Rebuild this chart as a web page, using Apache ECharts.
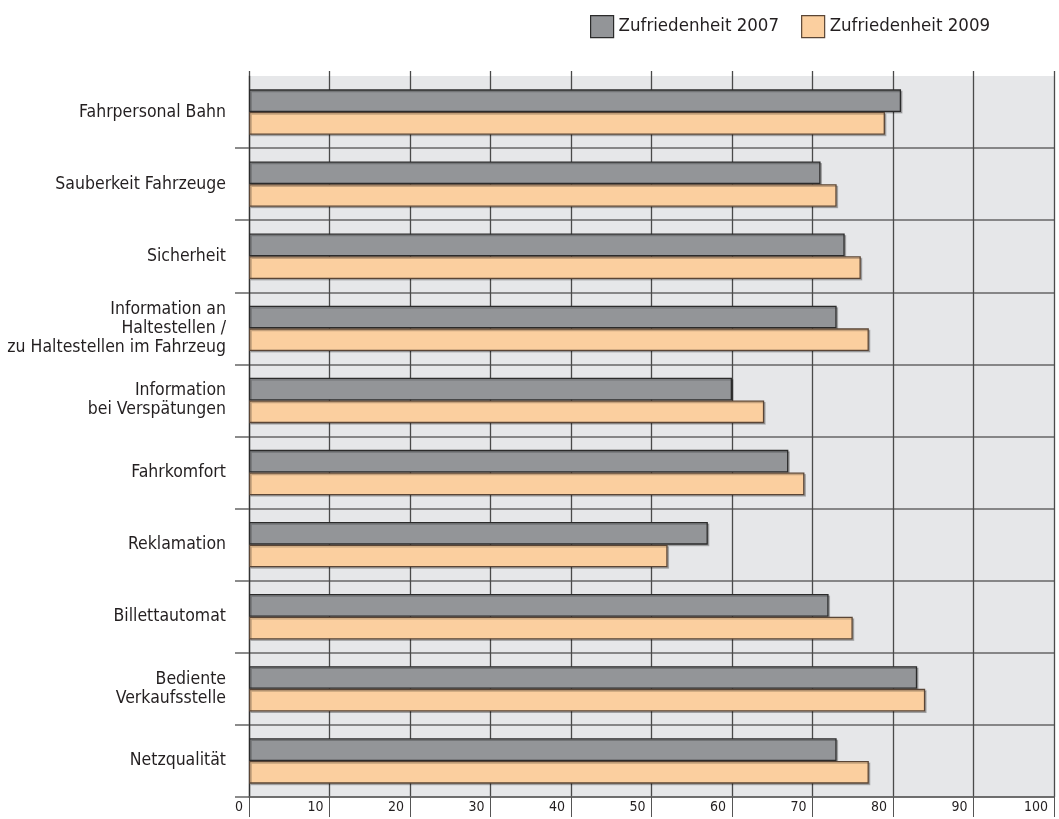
<!DOCTYPE html>
<html>
<head>
<meta charset="utf-8">
<script src="https://cdn.jsdelivr.net/npm/echarts@6/dist/echarts.min.js"></script>
<style>
  html, body { margin: 0; padding: 0; background: #fff; }
  #chart { width: 1059px; height: 819px; }
</style>
</head>
<body>
<div id="chart"></div>
<script>
// Kategorien (von oben nach unten)
var categories = [
  'Fahrpersonal Bahn',
  'Sauberkeit Fahrzeuge',
  'Sicherheit',
  'Information an\nHaltestellen /\nzu Haltestellen im Fahrzeug',
  'Information\nbei Verspätungen',
  'Fahrkomfort',
  'Reklamation',
  'Billettautomat',
  'Bediente\nVerkaufsstelle',
  'Netzqualität'
];
var werte2007 = [81, 71, 74, 73, 60, 67, 57, 72, 83, 73];
var werte2009 = [79, 73, 76, 77, 64, 69, 52, 75, 84, 77];
var xTicks = [0, 10, 20, 30, 40, 50, 60, 70, 80, 90, 100];

var font = 'DejaVu Sans Condensed';
var chart = echarts.init(document.getElementById('chart'));

// keine Linie am oberen Rand
var ohneOben = function (i) { return i > 0; };

var option = {
  animation: false,
  textStyle: { fontFamily: font },
  legend: {
    left: 585,
    top: 10,
    itemWidth: 23,
    itemHeight: 22,
    itemGap: 22,
    icon: 'rect',
    textStyle: { fontSize: 18.5, color: '#231f20', fontFamily: font },
    itemStyle: { borderWidth: 1.2 },
    data: ['Zufriedenheit 2007', 'Zufriedenheit 2009']
  },
  grid: {
    left: 249,
    top: 76,
    right: 5,
    bottom: 22,
    show: true,
    backgroundColor: '#e6e7e9',
    borderWidth: 0
  },
  xAxis: [
    {
      type: 'value',
      min: xTicks[0],
      max: xTicks[xTicks.length - 1],
      interval: 10,
      axisLine: { show: true, lineStyle: { color: '#666', width: 1.5 } },
      axisTick: { show: true, length: 20, lineStyle: { color: '#555' } },
      axisLabel: {
        fontSize: 14,
        color: '#231f20',
        align: 'right',
        verticalAlign: 'top',
        margin: 3,
        padding: [0, 6, 0, 0]
      },
      splitLine: { show: true, lineStyle: { color: '#4a4a4a', width: 1.3 } }
    },
    {
      type: 'value',
      position: 'top',
      min: 0,
      max: 100,
      interval: 10,
      axisLine: { show: false },
      axisTick: { show: true, length: 5, lineStyle: { color: '#4a4a4a', width: 1.3 } },
      axisLabel: { show: false },
      splitLine: { show: false }
    }
  ],
  yAxis: {
    type: 'category',
    inverse: true,
    data: categories,
    axisLine: { show: true, lineStyle: { color: '#333', width: 1.3 } },
    axisTick: { show: true, length: 14, interval: ohneOben, lineStyle: { color: '#666', width: 1.5 } },
    splitLine: { show: true, interval: ohneOben, lineStyle: { color: '#666', width: 1.5 } },
    axisLabel: {
      fontSize: 17.5,
      color: '#231f20',
      margin: 23,
      lineHeight: 19
    }
  },
  series: [
    {
      name: 'Zufriedenheit 2007',
      type: 'bar',
      data: werte2007,
      barGap: '0%',
      barCategoryGap: '37%',
      itemStyle: {
        color: '#939598',
        borderColor: '#2b2b2b',
        borderWidth: 1.3,
        shadowColor: 'rgba(0,0,0,0.22)',
        shadowOffsetX: 1.5,
        shadowOffsetY: 1.5
      }
    },
    {
      name: 'Zufriedenheit 2009',
      type: 'bar',
      data: werte2009,
      itemStyle: {
        color: '#fbcf9f',
        borderColor: '#5a4535',
        borderWidth: 1.3,
        shadowColor: 'rgba(0,0,0,0.22)',
        shadowOffsetX: 1.5,
        shadowOffsetY: 1.5
      }
    }
  ]
};

chart.setOption(option);
</script>
</body>
</html>
